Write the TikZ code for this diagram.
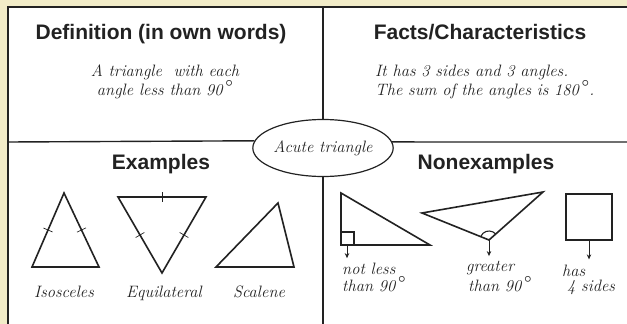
\documentclass[tikz,border=0pt]{standalone}
\usepackage{fontspec}
\newfontfamily\hdfont{Liberation Sans}
\usetikzlibrary{shapes.geometric,calc,arrows.meta}
\definecolor{bgbeige}{HTML}{F2ECC8}
\definecolor{ink}{HTML}{222222}
\newcommand\degmark{\,{\upshape\fontsize{22}{15}\selectfont °}}
\tikzset{
  hd/.style={font=\hdfont\bfseries\fontsize{21}{24}\selectfont, text=ink, inner sep=0pt},
  scr/.style={font=\itshape\fontsize{16.5}{19}\selectfont, text=ink, inner sep=0pt},
  scrtwo/.style={font=\itshape\fontsize{16.5}{15}\selectfont, text=ink, inner sep=0pt},
  div/.style={draw=ink, line width=1.4pt},
  shp/.style={draw=ink, line width=1.6pt, line join=miter},
  tickmark/.style={draw=ink, line width=0.7pt},
  thinmark/.style={draw=ink, line width=1.1pt},
  arr/.style={draw=ink, line width=1pt, -{Stealth[length=5pt,width=4.5pt]}}
}
\begin{document}
\begin{tikzpicture}[x=1pt,y=-1pt]
\useasboundingbox (0,0) rectangle (627,324);
\fill[bgbeige] (0,0) rectangle (627,324);
\fill[white] (8,7) rectangle (627,324);
\draw[ink, line width=2.2pt] (8,324) -- (8,7) -- (627,7);

% central ellipse
\node[ellipse, draw=ink, line width=1.2pt, minimum width=127pt, minimum height=57pt, scr] (ac) at (323,148) {Acute triangle};
\draw[div] (323,7) -- (ac.north);
\draw[div] (ac.south) -- (323,324);
\draw[div] (8,142) -- (ac.174.5);
\draw[div] (ac.5.5) -- (627,142);

% headings
\node[hd, anchor=base] (hdef) at (161,39) {Definition (in own words)};
\node[hd, anchor=base] (hfact) at (480,39) {Facts/Characteristics};
\node[hd, anchor=base] (hex) at (161,169) {Examples};
\node[hd, anchor=base] (hnon) at (486,169) {Nonexamples};

% texts
\node[scr, align=center, anchor=base] (tdef) at (165,95) {A triangle \ with each\\angle less than 90\degmark};
\node[scr, align=left, anchor=base west] (tfact) at (375,95) {It has 3 sides and 3 angles.\\The sum of the angles is 180\degmark.};

% isosceles
\coordinate (i1) at (64,193);
\coordinate (i2) at (32,267);
\coordinate (i3) at (99,267);
\draw[shp] (i1) -- (i2) -- (i3) -- cycle;
\draw[tickmark] ($(i1)!0.5!(i2)!5pt!90:(i2)$) -- ($(i1)!0.5!(i2)!5pt!-90:(i2)$);
\draw[tickmark] ($(i1)!0.5!(i3)!5pt!90:(i3)$) -- ($(i1)!0.5!(i3)!5pt!-90:(i3)$);
\node[scr, anchor=base] (liso) at (64,297) {Isosceles};

% equilateral
\coordinate (e1) at (118,197);
\coordinate (e2) at (206,197);
\coordinate (e3) at (162,273);
\draw[shp] (e1) -- (e2) -- (e3) -- cycle;
\draw[tickmark] ($(e1)!0.5!(e2)!5pt!90:(e2)$) -- ($(e1)!0.5!(e2)!5pt!-90:(e2)$);
\draw[tickmark] ($(e2)!0.5!(e3)!5pt!90:(e3)$) -- ($(e2)!0.5!(e3)!5pt!-90:(e3)$);
\draw[tickmark] ($(e3)!0.5!(e1)!5pt!90:(e1)$) -- ($(e3)!0.5!(e1)!5pt!-90:(e1)$);
\node[scr, anchor=base] (lequ) at (164,297) {Equilateral};

% scalene
\coordinate (s1) at (216,267);
\coordinate (s2) at (278,203);
\coordinate (s3) at (294,267);
\draw[shp] (s1) -- (s2) -- (s3) -- cycle;
\node[scr, anchor=base] (lsca) at (259,297) {Scalene};

% right triangle
\coordinate (r1) at (341,193);
\coordinate (r2) at (341,245);
\coordinate (r3) at (430,245);
\draw[shp] (r1) -- (r2) -- (r3) -- cycle;
\draw[thinmark] (r2) ++(0,-13) -- ++(13,0) -- ++(0,13);
\coordinate (ra) at (347,245);
\node[scrtwo, align=left, anchor=base west] (lnl) at (342,291) {not less\\than 90\degmark};
\draw[arr, shorten >=5pt] (ra) -- (ra |- lnl.north);

% obtuse triangle
\coordinate (o1) at (422,213);
\coordinate (o2) at (543,192);
\coordinate (o3) at (489,240);
\draw[shp] (o1) -- (o2) -- (o3) -- cycle;
\draw[thinmark] ([shift={(41.6:9pt)}]o3) arc[start angle=41.6, end angle=158.1, radius=9pt];
\node[scrtwo, align=left, anchor=base west] (lgr) at (466,291) {greater\\\hspace*{2pt}than 90\degmark};
\draw[arr, shorten >=5pt] (o3) -- (o3 |- lgr.north);

% square
\node[shp, minimum size=46pt, inner sep=0pt] (sq) at (589,217) {};
\node[scrtwo, align=left, anchor=base west] (lhs) at (562,291) {has\\\hspace*{5pt}4 sides};
\draw[arr, shorten >=5pt] (sq.south) -- (sq.south |- lhs.north);
\end{tikzpicture}
\end{document}
